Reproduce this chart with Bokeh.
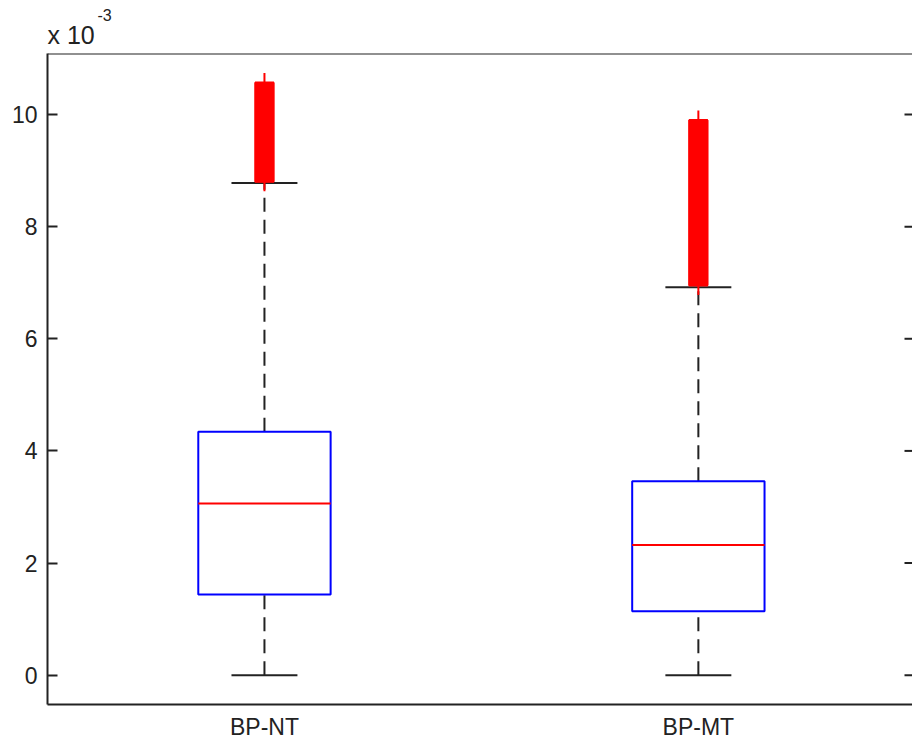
from bokeh.plotting import figure
from bokeh.models import Range1d, FixedTicker, Span, Title
from bokeh.embed import file_html
from bokeh.resources import INLINE

# ---- data (values in units of 10^-3) ----
groups = ["BP-NT", "BP-MT"]
positions = [1, 2]
lower_whisker = [0.0, 0.0]
q1 = [1.44, 1.14]
median = [3.06, 2.32]
q3 = [4.34, 3.46]
upper_whisker = [8.78, 6.92]
outlier_min = [8.80, 6.95]
outlier_max = [10.57, 9.90]
y_ticks = [0, 2, 4, 6, 8, 10]

BOX_W = 0.305
CAP_W = 0.152
OUT_W = 0.0445
FONT = "Liberation Sans"
FS = "23px"
AX_COL = "#222222"
X_END = 2.4935
Y_END = 11.088

p = figure(width=912, height=744,
           x_range=Range1d(0.5, X_END), y_range=Range1d(-0.523, Y_END),
           output_backend="svg", toolbar_location=None,
           min_border_left=47, min_border_right=0,
           min_border_top=53, min_border_bottom=40)
p.outline_line_color = None
p.xgrid.visible = False
p.ygrid.visible = False
p.background_fill_color = "white"
p.border_fill_color = "white"

# multiplier "x 10^-3": exponent as outer title, mantissa as inner title
p.title.text = "-3"
p.title.text_font = FONT
p.title.text_font_size = "16px"
p.title.text_font_style = "normal"
p.title.text_color = AX_COL
p.title.align = "left"
p.title.offset = 50
p.title.standoff = -13
base = Title(text="x 10", text_font=FONT, text_font_size="25px", text_font_style="normal",
             text_color=AX_COL, align="left", offset=0, standoff=9)
p.add_layout(base, "above")

# x axis
p.xaxis.ticker = FixedTicker(ticks=positions)
p.xaxis.major_label_overrides = {pos: g for pos, g in zip(positions, groups)}
p.xaxis.major_tick_in = 0
p.xaxis.major_tick_out = 0
p.xaxis.minor_tick_line_color = None
p.xaxis.axis_line_width = 2
p.xaxis.axis_line_color = AX_COL
p.xaxis.major_label_text_font = FONT
p.xaxis.major_label_text_font_size = FS
p.xaxis.major_label_text_color = AX_COL
p.xaxis.major_label_standoff = 9

# y axis
p.yaxis.ticker = FixedTicker(ticks=y_ticks)
p.yaxis.major_tick_in = 10
p.yaxis.major_tick_out = 0
p.yaxis.major_tick_line_width = 2
p.yaxis.major_tick_line_color = AX_COL
p.yaxis.minor_tick_line_color = None
p.yaxis.axis_line_width = 2
p.yaxis.axis_line_color = AX_COL
p.yaxis.major_label_text_font = FONT
p.yaxis.major_label_text_font_size = FS
p.yaxis.major_label_text_color = AX_COL
p.yaxis.major_label_standoff = 10

# top border
p.add_layout(Span(location=Y_END, dimension="width", line_color=AX_COL, line_width=2))

# right-side tick marks (mirrored y ticks, frame edge clips half)
p.scatter(x=[X_END] * len(y_ticks), y=y_ticks, marker="dash", size=16,
          line_color=AX_COL, line_width=2)

# whiskers (dashed)
p.segment(x0=positions, y0=q3, x1=positions, y1=upper_whisker,
          line_color=AX_COL, line_width=2, line_dash="14 8")
p.segment(x0=positions, y0=lower_whisker, x1=positions, y1=q1,
          line_color=AX_COL, line_width=2, line_dash="14 8")

# caps
cap_l = [x - CAP_W / 2 for x in positions]
cap_r = [x + CAP_W / 2 for x in positions]
p.segment(x0=cap_l, y0=upper_whisker, x1=cap_r, y1=upper_whisker, line_color=AX_COL, line_width=2)
p.segment(x0=cap_l, y0=lower_whisker, x1=cap_r, y1=lower_whisker, line_color=AX_COL, line_width=2)

# boxes
p.vbar(x=positions, width=BOX_W, bottom=q1, top=q3, fill_color=None,
       line_color="#0000FF", line_width=2)
box_l = [x - BOX_W / 2 for x in positions]
box_r = [x + BOX_W / 2 for x in positions]
p.segment(x0=box_l, y0=median, x1=box_r, y1=median, line_color="#FF0000", line_width=2)

# outliers (dense '+' markers)
p.vbar(x=positions, width=OUT_W, bottom=outlier_min, top=outlier_max,
       fill_color="#FF0000", line_color="#FF0000", line_width=1)
p.scatter(x=positions + positions, y=outlier_min + outlier_max, marker="cross",
          size=19, line_color="#FF0000", line_width=2)

open("out.html", "w").write(file_html(p, INLINE))
